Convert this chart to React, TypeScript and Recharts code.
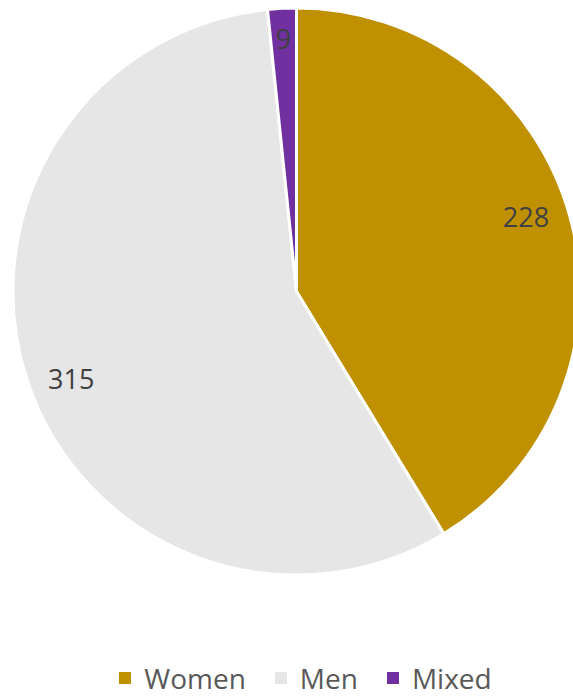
import { PieChart, Pie, Cell, Legend } from 'recharts';

const categories = ['Women', 'Men', 'Mixed'];
const counts = [228, 315, 9];
const colors = ['#BF9000', '#E7E6E6', '#7030A0'];

const data = categories.map((name, i) => ({ name, value: counts[i] }));

const RADIAN = Math.PI / 180;

// labels sit a bit inside the rim, nudged like Excel's best-fit placement
const renderLabel = (props: any) => {
  const { cx, cy, midAngle, outerRadius, value } = props;
  const small = value < 20;
  const r = small ? outerRadius - 30 : outerRadius - 42;
  const a = small ? midAngle : midAngle + 2.5;
  const x = cx + r * Math.cos(-a * RADIAN);
  const y = cy + r * Math.sin(-a * RADIAN);
  return (
    <text
      x={x}
      y={y}
      fill="#404040"
      fontSize={27}
      fontFamily="'Open Sans', sans-serif"
      textAnchor="middle"
      dominantBaseline="central"
    >
      {value}
    </text>
  );
};

const renderLegend = () => (
  <div
    style={{
      display: 'flex',
      justifyContent: 'center',
      paddingLeft: 38,
      height: 36,
      lineHeight: '36px',
      fontFamily: "'Open Sans', sans-serif",
      fontSize: 28,
      color: '#595959',
    }}
  >
    {categories.map((c, i) => (
      <div key={c} style={{ display: 'flex', alignItems: 'center', marginRight: i < categories.length - 1 ? 29 : 0 }}>
        <span style={{ display: 'inline-block', width: 12, height: 12, background: colors[i], marginRight: 13 }} />
        <span>{c}</span>
      </div>
    ))}
  </div>
);

const App = () => {
  return (
    <div style={{ position: 'absolute', left: 0, top: 0, width: 573, height: 696, overflow: 'hidden' }}>
      <PieChart width={573} height={696} margin={{ top: 0, right: 0, bottom: 0, left: 0 }}>
        <Pie
          data={data}
          dataKey="value"
          nameKey="name"
          cx={296.5}
          cy={291.5}
          outerRadius={283.5}
          startAngle={90}
          endAngle={-270}
          stroke="#FFFFFF"
          strokeWidth={3}
          label={renderLabel}
          labelLine={false}
          isAnimationActive={false}
        >
          {data.map((d, i) => (
            <Cell key={d.name} fill={colors[i]} />
          ))}
        </Pie>
        <Legend content={renderLegend} wrapperStyle={{ top: 660, left: 0, width: 573, height: 36 }} />
      </PieChart>
    </div>
  );
};

export default App;
